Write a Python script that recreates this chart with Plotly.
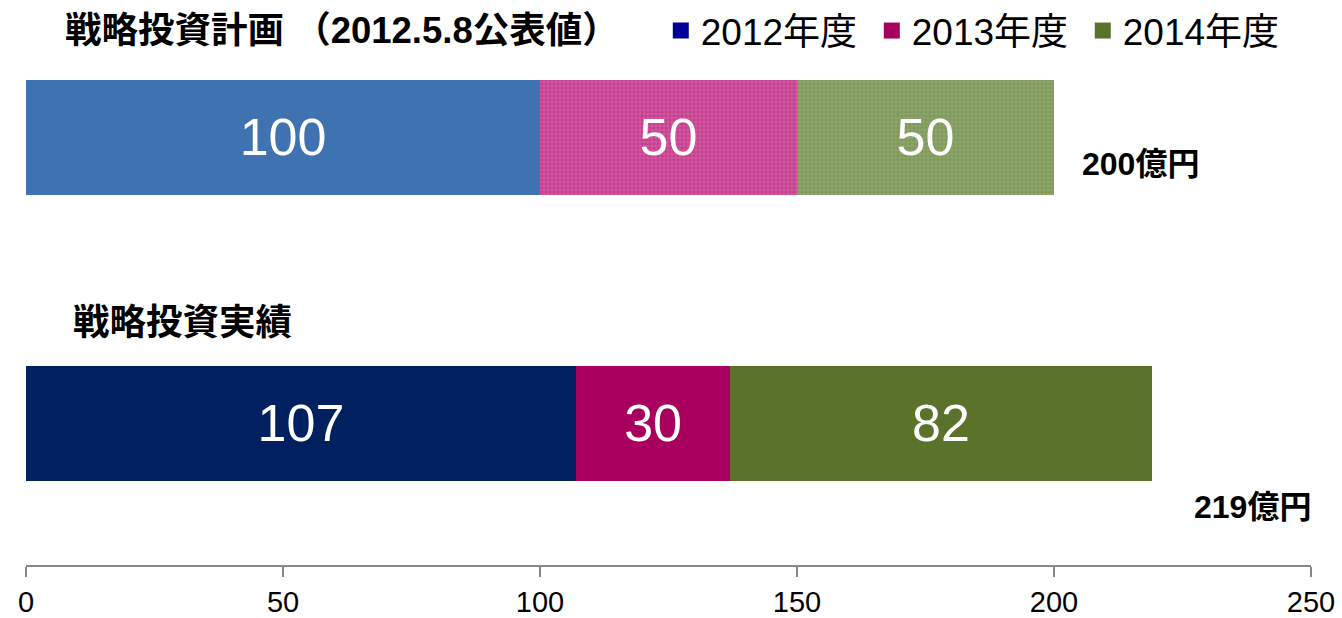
import plotly.graph_objects as go

# ---- data ----
categories = ["戦略投資計画", "戦略投資実績"]
years = ["2012年度", "2013年度", "2014年度"]
plan_values = [100, 50, 50]
actual_values = [107, 30, 82]
x_ticks = [0, 50, 100, 150, 200, 250]
title_plan = "戦略投資計画 （2012.5.8公表値）"
title_actual = "戦略投資実績"
unit = "億円"

# ---- styles ----
FONT = "Arial, 'Liberation Sans', 'Noto Sans CJK JP', sans-serif"
legend_colors = ["#000099", "#a50060", "#5a7229"]
plan_colors = ["#3e72b0", "#c43e8e", "#7e985a"]
plan_pattern_fg = [None, "#e98cc3", "#aebf8e"]
actual_colors = ["#002060", "#a8005e", "#5a7229"]

Y_PLAN, Y_ACT = 1, 0
BAR_W = 0.402

fig = go.Figure()

for i, yr in enumerate(years):
    if plan_pattern_fg[i]:
        pattern = dict(shape="+", fgcolor=plan_pattern_fg[i], size=4, solidity=0.35,
                       fillmode="overlay")
    else:
        pattern = dict(shape="")
    fig.add_trace(go.Bar(
        x=[plan_values[i]], y=[Y_PLAN], orientation="h", width=BAR_W,
        marker=dict(color=plan_colors[i], line=dict(width=0), pattern=pattern),
        text=[str(plan_values[i])], textposition="inside", insidetextanchor="middle",
        textfont=dict(color="white", size=52, family=FONT),
        showlegend=False, hoverinfo="x+name", name=yr,
    ))

for i, yr in enumerate(years):
    fig.add_trace(go.Bar(
        x=[actual_values[i]], y=[Y_ACT], orientation="h", width=BAR_W,
        marker=dict(color=actual_colors[i], line=dict(width=0)),
        text=[str(actual_values[i])], textposition="inside", insidetextanchor="middle",
        textfont=dict(color="white", size=52, family=FONT),
        showlegend=False, hoverinfo="x+name", name=yr,
    ))

# legend entries
for i, yr in enumerate(years):
    fig.add_trace(go.Scatter(
        x=[None], y=[None], mode="markers", name=yr,
        marker=dict(symbol="square", size=16, color=legend_colors[i]),
        showlegend=True,
    ))

plan_total = sum(plan_values)
actual_total = sum(actual_values)

annotations = [
    dict(x=0, y=Y_PLAN, xref="x", yref="y", text="<b>" + title_plan + "</b>",
         xanchor="left", yanchor="middle", xshift=37, yshift=107,
         showarrow=False, font=dict(size=36.5, color="black", family=FONT)),
    dict(x=0, y=Y_ACT, xref="x", yref="y", text="<b>" + title_actual + "</b>",
         xanchor="left", yanchor="middle", xshift=45, yshift=101,
         showarrow=False, font=dict(size=36.5, color="black", family=FONT)),
    dict(x=plan_total, y=Y_PLAN, xref="x", yref="y",
         text="<b>" + str(plan_total) + unit + "</b>",
         xanchor="left", yanchor="middle", xshift=26, yshift=-27,
         showarrow=False, font=dict(size=32, color="black", family=FONT)),
    dict(x=actual_total, y=Y_ACT, xref="x", yref="y",
         text="<b>" + str(actual_total) + unit + "</b>",
         xanchor="left", yanchor="middle", xshift=40, yshift=-84,
         showarrow=False, font=dict(size=32, color="black", family=FONT)),
]

fig.update_layout(
    barmode="stack",
    width=1342, height=618,
    margin=dict(l=26, r=31, t=0, b=53),
    paper_bgcolor="white", plot_bgcolor="white",
    font=dict(family=FONT, color="black"),
    showlegend=True,
    legend=dict(orientation="h", x=0.494, y=1.0, xanchor="left", yanchor="top",
                font=dict(size=37, family=FONT, color="black"),
                bgcolor="rgba(0,0,0,0)", itemsizing="trace",
                entrywidth=166, entrywidthmode="pixels", traceorder="normal"),
    annotations=annotations,
    xaxis=dict(range=[0, 250], tickvals=x_ticks, ticktext=[str(v) for v in x_ticks],
               showgrid=False, zeroline=False, showline=True, linecolor="#878787",
               linewidth=1.5, ticks="outside", ticklen=10, tickcolor="#878787",
               tickwidth=1.5, tickfont=dict(size=29, family=FONT, color="black"),
               fixedrange=True),
    yaxis=dict(range=[-0.4948, 1.4807], showgrid=False, zeroline=False,
               showline=False, showticklabels=False, ticks="", fixedrange=True),
)

fig.write_html("out.html", config={"displayModeBar": False},
               post_script="document.body.style.margin='0';document.body.style.overflow='hidden';")
